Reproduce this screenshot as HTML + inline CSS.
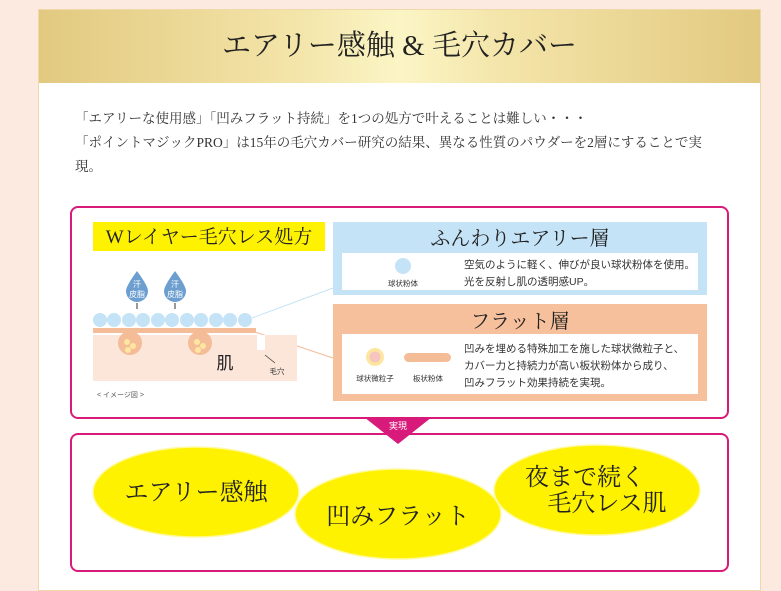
<!DOCTYPE html>
<html><head><meta charset="utf-8"><style>
body{margin:0;width:781px;height:583px;background:#fce9df;position:relative;overflow:hidden;font-family:"Liberation Serif","Noto Serif CJK SC",serif;}
.card{position:absolute;left:38px;top:9px;width:721px;height:580px;background:#fff;border:1px solid #f0d9a8;}
.hdr{position:absolute;left:0;top:0;width:721px;height:73px;background:linear-gradient(90deg,#e2c980 0%,#f3e4a8 35%,#fbf5c5 50%,#f3e4a8 65%,#e2c980 100%);text-align:center;line-height:73px;font-size:29px;color:#222;}
.p{position:absolute;left:36px;top:97px;font-size:13.5px;line-height:24px;color:#333;width:640px;}
.box{position:absolute;left:70px;width:655px;border:2px solid #d81b7b;border-radius:8px;background:#fff;}
.s{font-family:"Liberation Sans","Noto Sans CJK JP",sans-serif;}
</style></head><body>
<div class="card">
<div class="hdr">エアリー感触 &amp; 毛穴カバー</div>
<div class="p">「エアリーな使用感」「凹みフラット持続」を1つの処方で叶えることは難しい・・・<br>「ポイントマジックPRO」は15年の毛穴カバー研究の結果、異なる性質のパウダーを2層にすることで実現。</div>
</div>
<div class="box" style="top:206px;height:209px;"></div>
<div class="box" style="top:433px;height:135px;"></div>
<svg width="781" height="583" style="position:absolute;left:0;top:0" font-family="Liberation Serif,Noto Serif CJK JP,serif">
<rect x="93" y="222" width="232" height="29" fill="#fef200"/>
<text x="209" y="243" font-size="19" text-anchor="middle" fill="#222">Wレイヤー毛穴レス処方</text>
<rect x="333" y="222" width="374" height="73" fill="#c4e3f7"/>
<text x="520" y="245" font-size="20" text-anchor="middle" fill="#222">ふんわりエアリー層</text>
<rect x="342" y="253" width="356" height="37" fill="#fff"/>
<circle cx="403" cy="266" r="8" fill="#c4e3f7"/>
<text x="403" y="286" font-size="7.5" text-anchor="middle" fill="#333" class="s">球状粉体</text>
<text x="464" y="268" font-size="10.5" fill="#333" class="s">空気のように軽く、伸びが良い球状粉体を使用。</text>
<text x="464" y="285" font-size="10.5" fill="#333" class="s">光を反射し肌の透明感UP。</text>
<rect x="333" y="304" width="374" height="97" fill="#f7c09c"/>
<text x="520" y="328" font-size="20" text-anchor="middle" fill="#222">フラット層</text>
<rect x="342" y="334" width="356" height="60" fill="#fff"/>
<circle cx="375" cy="357" r="9" fill="#fde6a0"/><circle cx="375" cy="357" r="5.5" fill="#f7c4c0"/>
<rect x="404" y="353" width="47" height="9" rx="4.5" fill="#f5bc98"/>
<text x="375" y="381" font-size="7.5" text-anchor="middle" fill="#333" class="s">球状微粒子</text>
<text x="428" y="381" font-size="7.5" text-anchor="middle" fill="#333" class="s">板状粉体</text>
<text x="464" y="352" font-size="10.5" fill="#333" class="s">凹みを埋める特殊加工を施した球状微粒子と、</text>
<text x="464" y="369" font-size="10.5" fill="#333" class="s">カバー力と持続力が高い板状粉体から成り、</text>
<text x="464" y="386" font-size="10.5" fill="#333" class="s">凹みフラット効果持続を実現。</text>
<line x1="252" y1="318" x2="333" y2="288" stroke="#c4e3f7"/>
<line x1="255" y1="332" x2="333" y2="358" stroke="#f5bc98"/>
<rect x="93" y="335" width="204" height="46" fill="#fce6da"/>
<rect x="93" y="328" width="163" height="5" fill="#f5bc98"/>
<ellipse cx="130" cy="343" rx="12" ry="12" fill="#f5bc98"/>
<ellipse cx="200" cy="343" rx="12" ry="12" fill="#f5bc98"/>
<circle cx="127" cy="342" r="3" fill="#fde6a0"/><circle cx="133" cy="346" r="3" fill="#fde6a0"/><circle cx="128" cy="350" r="3" fill="#fde6a0"/>
<circle cx="197" cy="342" r="3" fill="#fde6a0"/><circle cx="203" cy="346" r="3" fill="#fde6a0"/><circle cx="198" cy="350" r="3" fill="#fde6a0"/>
<rect x="257" y="335" width="8" height="15" fill="#fff"/>
<line x1="265" y1="355" x2="275" y2="363" stroke="#333" stroke-width="0.7"/>
<g fill="#c4e3f7">
<circle cx="100" cy="320" r="7"/><circle cx="114" cy="320" r="7"/><circle cx="129" cy="320" r="7"/><circle cx="143" cy="320" r="7"/><circle cx="158" cy="320" r="7"/><circle cx="172" cy="320" r="7"/><circle cx="187" cy="320" r="7"/><circle cx="201" cy="320" r="7"/><circle cx="216" cy="320" r="7"/><circle cx="230" cy="320" r="7"/><circle cx="245" cy="320" r="7"/></g>
<path d="M137 271 Q126 286 126 291 A11 11 0 0 0 148 291 Q148 286 137 271Z" fill="#6d9ed0"/>
<path d="M175 271 Q164 286 164 291 A11 11 0 0 0 186 291 Q186 286 175 271Z" fill="#6d9ed0"/>
<text x="137" y="287" font-size="8" fill="#fff" text-anchor="middle" class="s">汗</text><text x="137" y="297" font-size="8" fill="#fff" text-anchor="middle" class="s">皮脂</text>
<text x="175" y="287" font-size="8" fill="#fff" text-anchor="middle" class="s">汗</text><text x="175" y="297" font-size="8" fill="#fff" text-anchor="middle" class="s">皮脂</text>
<line x1="137" y1="303" x2="137" y2="309" stroke="#333"/><line x1="175" y1="303" x2="175" y2="309" stroke="#333"/>
<text x="225" y="369" font-size="17" text-anchor="middle" fill="#222" class="s">肌</text>
<text x="277" y="374" font-size="7.5" text-anchor="middle" fill="#333" class="s">毛穴</text>
<text x="97" y="397" font-size="7" fill="#555" class="s">&lt; イメージ図 &gt;</text>
<path d="M364 417 L432 417 L398 444 Z" fill="#d81b7b"/>
<text x="398" y="429" font-size="9" fill="#fff" text-anchor="middle" class="s">実現</text>
<g fill="#fef200" stroke="#fff9a0" stroke-width="1.5">
<ellipse cx="196" cy="492" rx="103" ry="45"/>
<ellipse cx="398" cy="514" rx="103" ry="45"/>
<ellipse cx="597" cy="490" rx="103" ry="45"/></g>
<text x="196" y="500" font-size="24" text-anchor="middle" fill="#222">エアリー感触</text>
<text x="398" y="524" font-size="24" text-anchor="middle" fill="#222">凹みフラット</text>
<text x="585" y="485" font-size="24" text-anchor="middle" fill="#222">夜まで続く</text>
<text x="607" y="511" font-size="24" text-anchor="middle" fill="#222">毛穴レス肌</text>
</svg>
</body></html>
